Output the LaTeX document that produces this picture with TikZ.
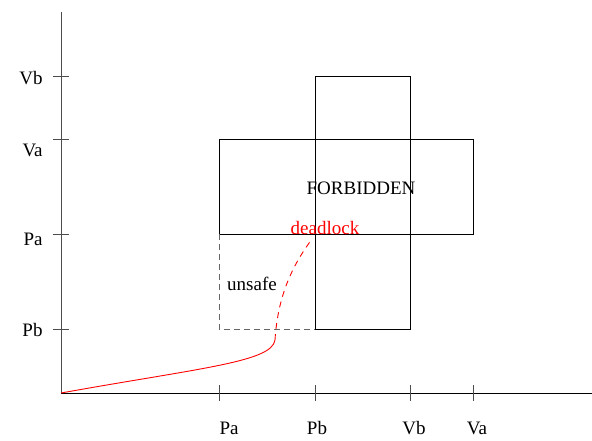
\documentclass[tikz,border=0pt]{standalone}
\usepackage{fontspec}
\setmainfont{Liberation Serif}
\usetikzlibrary{positioning}

\begin{document}
\begin{tikzpicture}[x=1pt,y=-1pt,line width=0.9pt,
    lbl/.style={font=\fontsize{19}{21}\selectfont,inner sep=0pt},
    tck/.style={black!70}]
                \useasboundingbox (0,0) rectangle (592,440);
                % axes
                \coordinate (O) at (61,393);
                \draw[black!70] (O)--(61,12);
                \draw (O)--(592,393);
                % ticks on y
                \draw[tck] (53,76)--(69,76);
                \draw[tck] (53,139)--(69,139);
                \draw[tck] (53,234)--(69,234);
                \draw[tck] (53,329)--(69,329);
                \node[lbl,anchor=east] (yvb) at (43,78) {Vb};
                \node[lbl,anchor=east] (yva) at (43,150) {Va};
                \node[lbl,anchor=east] (ypa) at (43,239) {Pa};
                \node[lbl,anchor=east] (ypb) at (43,330) {Pb};
                % ticks on x
                \draw[tck] (219,385)--(219,401);
                \draw[tck] (315,385)--(315,401);
                \draw[tck] (410,385)--(410,401);
                \draw[tck] (473,385)--(473,401);
                \node[lbl] (xpa) at (229,428) {Pa};
                \node[lbl] (xpb) at (317,428) {Pb};
                \node[lbl] (xvb) at (414,428) {Vb};
                \node[lbl] (xva) at (477,428) {Va};
                % forbidden region
                \draw (219,139) rectangle (473,234);
                \draw (315,76) rectangle (410,329);
                \node[lbl] (forb) at (361,188) {FORBIDDEN};
                % unsafe region
                \draw[black!60,dashed,dash pattern=on 6pt off 4pt] (219,234)--(219,329)--(315,329);
                \node[lbl] (uns) at (252,284) {unsafe};
                % trajectory
                \coordinate (K) at (275,340);
                \draw[red] (O) .. controls (200,368) and (272,362) .. (K);
                \draw[red,dashed,dash pattern=on 6pt off 5pt] (K) .. controls (278,292) and (295,262) .. (312,239);
                \node[lbl,red] (dl) at (325,228) {deadlock};
            \end{tikzpicture}
\end{document}
